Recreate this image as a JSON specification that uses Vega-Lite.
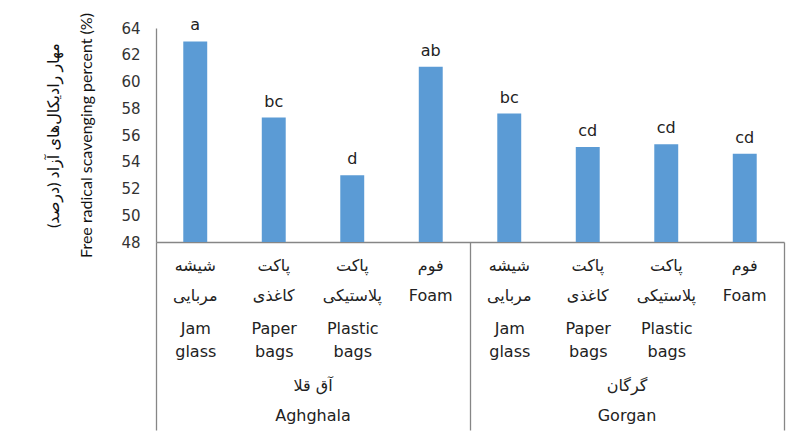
{
  "$schema": "https://vega.github.io/schema/vega-lite/v6.json",
  "width": 628,
  "height": 214,
  "autosize": {"type": "none"},
  "padding": {"left": 156, "top": 28, "right": 12, "bottom": 190},
  "background": "white",
  "config": {
    "view": {"stroke": null},
    "font": "DejaVu Sans"
  },
  "data": {
    "values": [
      {"slot": "Aghghala|Jam glass", "site": "Aghghala", "package": "Jam glass", "scavenging": 63.0, "group": "a"},
      {"slot": "Aghghala|Paper bags", "site": "Aghghala", "package": "Paper bags", "scavenging": 57.3, "group": "bc"},
      {"slot": "Aghghala|Plastic bags", "site": "Aghghala", "package": "Plastic bags", "scavenging": 53.0, "group": "d"},
      {"slot": "Aghghala|Foam", "site": "Aghghala", "package": "Foam", "scavenging": 61.1, "group": "ab"},
      {"slot": "Gorgan|Jam glass", "site": "Gorgan", "package": "Jam glass", "scavenging": 57.6, "group": "bc"},
      {"slot": "Gorgan|Paper bags", "site": "Gorgan", "package": "Paper bags", "scavenging": 55.1, "group": "cd"},
      {"slot": "Gorgan|Plastic bags", "site": "Gorgan", "package": "Plastic bags", "scavenging": 55.3, "group": "cd"},
      {"slot": "Gorgan|Foam", "site": "Gorgan", "package": "Foam", "scavenging": 54.6, "group": "cd"}
    ]
  },
  "resolve": {"scale": {"x": "independent"}, "axis": {"x": "independent"}},
  "layer": [
    {
      "mark": {"type": "bar", "color": "#5b9bd5", "clip": true},
      "encoding": {
        "x": {
          "field": "slot",
          "type": "nominal",
          "sort": null,
          "scale": {"paddingInner": 0.695, "paddingOuter": 0.3475},
          "axis": {
            "orient": "bottom",
            "title": null,
            "domain": true,
            "domainColor": "#868686",
            "domainWidth": 1.3,
            "ticks": false,
            "labelAngle": 0,
            "labelPadding": 15,
            "labelFontSize": 16,
            "labelLineHeight": 30,
            "labelColor": "#222222",
            "labelExpr": "split(datum.value, '|')[1] == 'Jam glass' ? ['شیشه', 'مربایی'] : split(datum.value, '|')[1] == 'Paper bags' ? ['پاکت', 'کاغذی'] : split(datum.value, '|')[1] == 'Plastic bags' ? ['پاکت', 'پلاستیکی'] : ['فوم', 'Foam']"
          }
        },
        "y": {
          "field": "scavenging",
          "type": "quantitative",
          "scale": {"domain": [48, 64], "nice": false, "zero": false},
          "axis": {
            "values": [48, 50, 52, 54, 56, 58, 60, 62, 64],
            "grid": false,
            "ticks": false,
            "domain": true,
            "domainColor": "#868686",
            "domainWidth": 1.3,
            "labelFontSize": 15,
            "labelPadding": 16,
            "labelColor": "#333333",
            "title": ["مهار رادیکال‌های آزاد (درصد)", "Free radical scavenging percent (%)"],
            "titleFont": "Lato, DejaVu Sans",
            "titleFontSize": 16,
            "titleFontWeight": "normal",
            "titleColor": "#111111",
            "titleLineHeight": 33,
            "titlePadding": 26
          }
        }
      }
    },
    {
      "mark": {"type": "text", "baseline": "alphabetic", "dy": -11, "fontSize": 16, "color": "#222222"},
      "encoding": {
        "x": {
          "field": "slot",
          "type": "nominal",
          "sort": null,
          "scale": {"paddingInner": 0.695, "paddingOuter": 0.3475},
          "axis": {
            "orient": "bottom",
            "title": null,
            "domain": false,
            "ticks": false,
            "labelAngle": 0,
            "labelPadding": 78,
            "labelFontSize": 16,
            "labelLineHeight": 23,
            "labelColor": "#222222",
            "labelExpr": "split(datum.value, '|')[1] == 'Foam' ? '' : split(split(datum.value, '|')[1], ' ')"
          }
        },
        "y": {
          "field": "scavenging",
          "type": "quantitative",
          "scale": {"domain": [48, 64], "nice": false, "zero": false},
          "axis": {
            "values": [48, 50, 52, 54, 56, 58, 60, 62, 64],
            "grid": false,
            "ticks": false,
            "domain": true,
            "domainColor": "#868686",
            "domainWidth": 1.3,
            "labelFontSize": 15,
            "labelPadding": 16,
            "labelColor": "#333333",
            "title": ["مهار رادیکال‌های آزاد (درصد)", "Free radical scavenging percent (%)"],
            "titleFont": "Lato, DejaVu Sans",
            "titleFontSize": 16,
            "titleFontWeight": "normal",
            "titleColor": "#111111",
            "titleLineHeight": 33,
            "titlePadding": 26
          }
        },
        "text": {"field": "group", "type": "nominal"}
      }
    },
    {
      "mark": {"type": "bar", "opacity": 0},
      "encoding": {
        "x": {
          "field": "site",
          "type": "nominal",
          "sort": null,
          "scale": {"paddingInner": 0, "paddingOuter": 0},
          "axis": {
            "orient": "bottom",
            "title": null,
            "domain": false,
            "labels": false,
            "ticks": true,
            "tickBand": "extent",
            "tickSize": 188,
            "tickColor": "#868686",
            "tickWidth": 1.3
          }
        }
      }
    },
    {
      "mark": {"type": "bar", "opacity": 0},
      "encoding": {
        "x": {
          "field": "site",
          "type": "nominal",
          "sort": null,
          "scale": {"paddingInner": 0, "paddingOuter": 0},
          "axis": {
            "orient": "bottom",
            "title": null,
            "domain": false,
            "ticks": false,
            "labelAngle": 0,
            "labelPadding": 135,
            "labelFontSize": 16,
            "labelLineHeight": 30,
            "labelColor": "#222222",
            "labelExpr": "datum.value == 'Aghghala' ? ['آق قلا', 'Aghghala'] : ['گرگان', 'Gorgan']"
          }
        }
      }
    }
  ]
}
